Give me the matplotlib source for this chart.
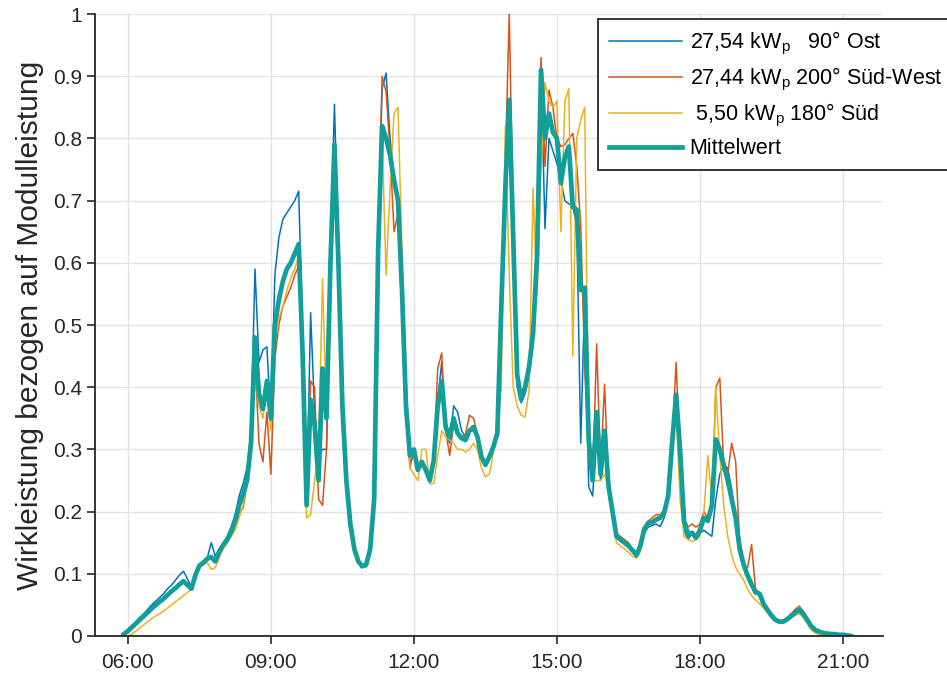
import numpy as np
import matplotlib
matplotlib.use("Agg")
import matplotlib.pyplot as plt

plt.rcParams['font.family'] = ['Liberation Sans', 'DejaVu Sans']
plt.rcParams['mathtext.fontset'] = 'custom'
plt.rcParams['mathtext.rm'] = 'Liberation Sans'
plt.rcParams['mathtext.it'] = 'Liberation Sans'

nan = np.nan

# time grid: 5-minute samples from 05:50 to 21:15 (hours)
t = np.arange(5 * 60 + 50, 21 * 60 + 20, 5) / 60.0

# ---------------- data (normalised power) ----------------
# rows: 05:50-05:55, then one row per hour (:00 ... :55), then 21:00-21:15
ost = [nan, 0.003,
       0.009, 0.016, 0.023, 0.030, 0.036, 0.043, 0.050, 0.056, 0.062, 0.068, 0.076, 0.082,
       0.090, 0.098, 0.104, 0.092, 0.078, 0.100, 0.113, 0.120, 0.126, 0.150, 0.128, 0.140,
       0.150, 0.160, 0.175, 0.195, 0.225, 0.245, 0.270, 0.330, 0.590, 0.440, 0.460, 0.465,
       0.345, 0.580, 0.640, 0.670, 0.680, 0.690, 0.700, 0.715, 0.480, 0.210, 0.520, 0.360,
       0.290, 0.300, 0.300, 0.620, 0.855, 0.620, 0.380, 0.250, 0.180, 0.140, 0.120, 0.112,
       0.115, 0.140, 0.220, 0.650, 0.880, 0.905, 0.800, 0.740, 0.700, 0.550, 0.360, 0.280,
       0.290, 0.270, 0.280, 0.265, 0.255, 0.290, 0.380, 0.440, 0.330, 0.310, 0.370, 0.360,
       0.330, 0.320, 0.330, 0.330, 0.320, 0.290, 0.275, 0.285, 0.300, 0.330, 0.550, 0.750,
       0.830, 0.640, 0.400, 0.375, 0.390, 0.420, 0.470, 0.580, 0.910, 0.655, 0.800, 0.780,
       0.760, 0.733, 0.700, 0.695, 0.690, 0.660, 0.310, 0.550, 0.240, 0.225, 0.330, 0.250,
       0.300, 0.240, 0.200, 0.160, 0.155, 0.150, 0.145, 0.138, 0.130, 0.140, 0.165, 0.175,
       0.178, 0.180, 0.176, 0.190, 0.220, 0.290, 0.380, 0.290, 0.170, 0.155, 0.165, 0.155,
       0.165, 0.170, 0.165, 0.160, 0.220, 0.260, 0.275, 0.270, 0.235, 0.190, 0.155, 0.120,
       0.097, 0.082, 0.070, 0.067, 0.050, 0.040, 0.032, 0.025, 0.022, 0.022, 0.026, 0.030,
       0.036, 0.040, 0.034, 0.025, 0.015, 0.010, 0.007, 0.005, 0.004, 0.003, 0.003, 0.002,
       0.002, 0.001, 0.000, nan]

suedwest = [0.000, 0.002,
            0.006, 0.012, 0.019, 0.025, 0.031, 0.037, 0.043, 0.049, 0.054, 0.059, 0.065, 0.071,
            0.076, 0.081, 0.086, 0.080, 0.075, 0.098, 0.114, 0.117, 0.122, 0.125, 0.120, 0.135,
            0.143, 0.150, 0.163, 0.180, 0.200, 0.205, 0.245, 0.300, 0.450, 0.310, 0.280, 0.360,
            0.260, 0.445, 0.500, 0.530, 0.545, 0.560, 0.580, 0.595, 0.420, 0.210, 0.410, 0.400,
            0.220, 0.210, 0.300, 0.580, 0.780, 0.600, 0.370, 0.250, 0.180, 0.140, 0.120, 0.112,
            0.115, 0.140, 0.220, 0.650, 0.900, 0.875, 0.780, 0.650, 0.680, 0.530, 0.360, 0.270,
            0.300, 0.265, 0.280, 0.265, 0.250, 0.290, 0.430, 0.455, 0.330, 0.290, 0.340, 0.330,
            0.320, 0.325, 0.355, 0.350, 0.325, 0.290, 0.275, 0.290, 0.305, 0.330, 0.550, 0.760,
            1.000, 0.660, 0.410, 0.380, 0.400, 0.430, 0.480, 0.600, 0.930, 0.755, 0.878, 0.850,
            0.800, 0.787, 0.790, 0.800, 0.808, 0.755, 0.660, 0.430, 0.290, 0.250, 0.470, 0.270,
            0.405, 0.240, 0.200, 0.165, 0.160, 0.155, 0.150, 0.140, 0.135, 0.145, 0.175, 0.185,
            0.190, 0.195, 0.195, 0.200, 0.225, 0.310, 0.440, 0.290, 0.190, 0.175, 0.180, 0.175,
            0.180, 0.200, 0.190, 0.200, 0.400, 0.415, 0.270, 0.260, 0.310, 0.280, 0.150, 0.115,
            0.110, 0.147, 0.075, 0.070, 0.055, 0.045, 0.035, 0.028, 0.025, 0.025, 0.030, 0.036,
            0.043, 0.048, 0.040, 0.028, 0.017, 0.011, 0.008, 0.006, 0.004, 0.003, 0.003, 0.002,
            0.002, 0.001, 0.0005, 0.000]

sued = [nan, nan,
        0.000, 0.003, 0.008, 0.013, 0.018, 0.023, 0.028, 0.032, 0.036, 0.040, 0.045, 0.050,
        0.055, 0.060, 0.065, 0.070, 0.075, 0.100, 0.110, 0.115, 0.118, 0.107, 0.110, 0.125,
        0.140, 0.150, 0.160, 0.170, 0.190, 0.210, 0.250, 0.330, 0.410, 0.370, 0.350, 0.400,
        0.330, 0.470, 0.510, 0.530, 0.555, 0.575, 0.590, 0.610, 0.400, 0.190, 0.195, 0.250,
        0.300, 0.575, 0.350, 0.580, 0.760, 0.600, 0.370, 0.250, 0.180, 0.140, 0.120, 0.112,
        0.110, 0.135, 0.200, 0.600, 0.800, 0.580, 0.720, 0.840, 0.850, 0.620, 0.420, 0.270,
        0.260, 0.250, 0.300, 0.300, 0.245, 0.245, 0.290, 0.330, 0.320, 0.315, 0.310, 0.300,
        0.300, 0.296, 0.300, 0.310, 0.300, 0.270, 0.256, 0.260, 0.294, 0.330, 0.400, 0.820,
        0.580, 0.400, 0.370, 0.355, 0.352, 0.395, 0.720, 0.550, 0.750, 0.890, 0.860, 0.850,
        0.860, 0.650, 0.860, 0.880, 0.450, 0.800, 0.830, 0.850, 0.300, 0.250, 0.250, 0.250,
        0.260, 0.240, 0.190, 0.150, 0.145, 0.140, 0.135, 0.128, 0.125, 0.135, 0.165, 0.180,
        0.185, 0.190, 0.195, 0.205, 0.230, 0.330, 0.360, 0.220, 0.160, 0.155, 0.152, 0.155,
        0.160, 0.200, 0.290, 0.220, 0.400, 0.290, 0.210, 0.160, 0.130, 0.110, 0.100, 0.090,
        0.075, 0.065, 0.058, 0.052, 0.045, 0.038, 0.030, 0.024, 0.021, 0.022, 0.025, 0.030,
        0.033, 0.036, 0.030, 0.020, 0.010, 0.005, 0.002, 0.000, 0.000, 0.000, nan, nan,
        nan, nan, nan, nan]

mittel = [nan, 0.003,
          0.008, 0.014, 0.020, 0.026, 0.032, 0.038, 0.044, 0.050, 0.055, 0.060, 0.066, 0.072,
          0.077, 0.083, 0.088, 0.082, 0.076, 0.098, 0.113, 0.118, 0.124, 0.127, 0.120, 0.136,
          0.146, 0.155, 0.168, 0.185, 0.210, 0.228, 0.250, 0.310, 0.480, 0.390, 0.365, 0.410,
          0.350, 0.500, 0.540, 0.570, 0.590, 0.600, 0.615, 0.630, 0.450, 0.210, 0.380, 0.340,
          0.250, 0.430, 0.350, 0.600, 0.790, 0.600, 0.370, 0.250, 0.180, 0.140, 0.120, 0.112,
          0.115, 0.140, 0.220, 0.620, 0.820, 0.800, 0.773, 0.733, 0.700, 0.556, 0.370, 0.290,
          0.300, 0.267, 0.280, 0.267, 0.250, 0.283, 0.370, 0.410, 0.336, 0.320, 0.350, 0.326,
          0.318, 0.315, 0.330, 0.336, 0.320, 0.288, 0.275, 0.288, 0.304, 0.326, 0.530, 0.717,
          0.862, 0.640, 0.420, 0.380, 0.400, 0.433, 0.487, 0.610, 0.910, 0.800, 0.840, 0.810,
          0.800, 0.728, 0.770, 0.787, 0.690, 0.685, 0.556, 0.560, 0.315, 0.250, 0.360, 0.260,
          0.330, 0.240, 0.200, 0.160, 0.155, 0.150, 0.145, 0.138, 0.130, 0.145, 0.172, 0.182,
          0.183, 0.187, 0.190, 0.198, 0.225, 0.310, 0.388, 0.300, 0.185, 0.163, 0.166, 0.158,
          0.170, 0.190, 0.185, 0.210, 0.316, 0.300, 0.275, 0.250, 0.220, 0.190, 0.140, 0.115,
          0.097, 0.083, 0.070, 0.068, 0.052, 0.042, 0.033, 0.026, 0.023, 0.023, 0.027, 0.032,
          0.038, 0.042, 0.036, 0.026, 0.016, 0.010, 0.007, 0.005, 0.004, 0.003, 0.003, 0.002,
          0.002, 0.001, 0.000, nan]

labels = [r'27,54 kW$_\mathrm{p}$   90° Ost',
          r'27,44 kW$_\mathrm{p}$ 200° Süd-West',
          r' 5,50 kW$_\mathrm{p}$ 180° Süd',
          'Mittelwert']
colors = ['#0072BD', '#D95319', '#EDB120', '#129E99']

xticks = [6, 9, 12, 15, 18, 21]
xticklabels = ['06:00', '09:00', '12:00', '15:00', '18:00', '21:00']
yticks = [0, 0.1, 0.2, 0.3, 0.4, 0.5, 0.6, 0.7, 0.8, 0.9, 1]
yticklabels = ['0', '0.1', '0.2', '0.3', '0.4', '0.5', '0.6', '0.7', '0.8', '0.9', '1']

# ================= PLOT =================
fig = plt.figure(figsize=(9.47, 6.84), dpi=100)
ax = fig.add_axes([0.1003, 0.0702, 0.8321, 0.9093])

for y, c, lab in zip([ost, suedwest, sued], colors[:3], labels[:3]):
    ax.plot(t, y, color=c, lw=1.1, label=lab)
ax.plot(t, mittel, color=colors[3], lw=3.4, label=labels[3])

ax.set_xlim(5.31, 21.84)
ax.set_ylim(0, 1)
ax.set_xticks(xticks)
ax.set_xticklabels(xticklabels)
ax.set_yticks(yticks)
ax.set_yticklabels(yticklabels)
ax.tick_params(labelsize=15, colors='#262626', length=6, width=1.2, direction='out')
ax.tick_params(axis='x', pad=6)
ax.set_ylabel('Wirkleistung bezogen auf Modulleistung', fontsize=21.5, color='#262626',
              labelpad=6)

for s in ['top', 'right']:
    ax.spines[s].set_visible(False)
for s in ['left', 'bottom']:
    ax.spines[s].set_color('#262626')
    ax.spines[s].set_linewidth(1.3)

ax.grid(True, color='#e3e3e3', lw=1.0)
ax.set_axisbelow(True)

leg = ax.legend(loc='upper left', bbox_to_anchor=(0.6315, 0.9722),
                bbox_transform=fig.transFigure, fontsize=15.5, frameon=True,
                fancybox=False, handlelength=3.4, labelspacing=0.42,
                borderpad=0.5, handletextpad=0.35, borderaxespad=0)
leg.get_frame().set_edgecolor('#262626')
leg.get_frame().set_linewidth(1.3)
leg.get_frame().set_alpha(1)

fig.savefig('out.png', dpi=100)
